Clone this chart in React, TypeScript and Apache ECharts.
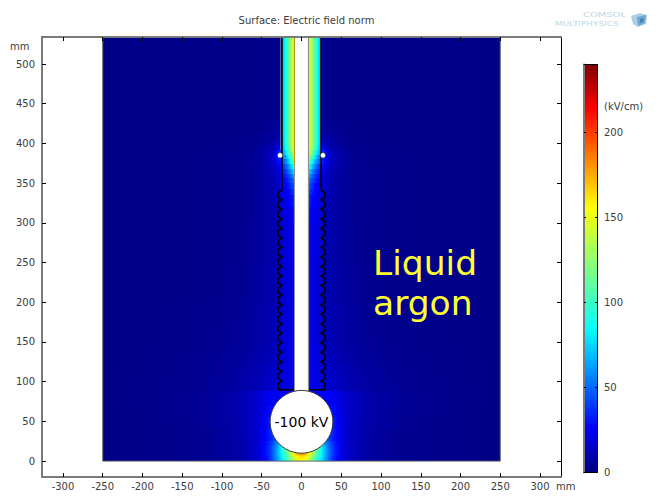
import React, { useEffect, useRef } from "react";
import * as echarts from "echarts";

const xTicks = [-300, -250, -200, -150, -100, -50, 0, 50, 100, 150, 200, 250, 300];
const yTicks = [0, 50, 100, 150, 200, 250, 300, 350, 400, 450, 500];
const barTicks = [0, 50, 100, 150, 200];
const jetStops: [number, string][] = [
  [0, "#00007f"], [0.11, "#0000ff"], [0.35, "#00ffff"], [0.5, "#80ff80"],
  [0.65, "#ffff00"], [0.89, "#ff0000"], [1, "#7f0000"],
];
const barMax = 240;

// |x| columns (mm) and rows of field values (kV/cm)
const lowerColumns = [0, 5, 10, 15, 20, 25, 30, 35, 40, 45, 50, 55, 60, 70, 80, 100, 125, 150, 200, 250];
const lowerBands = [[0, 2], [2, 4], [4, 6], [6, 8], [8, 10], [10, 13], [13, 16], [16, 20], [20, 25], [25, 32], [32, 40], [40, 55], [55, 70], [70, 88]];
const lowerValues = [
  [150, 145, 130, 110, 92, 78, 62, 48, 34, 26, 20, 16, 13, 9, 7, 5, 4, 3, 2, 1.5],
  [158, 152, 136, 114, 95, 80, 63, 48, 35, 27, 21, 17, 14, 10, 8, 5.5, 4, 3, 2, 1.5],
  [165, 158, 142, 118, 98, 82, 64, 49, 36, 28, 22, 18, 15, 10, 8, 6, 4, 3, 2, 1.5],
  [172, 165, 148, 122, 100, 83, 65, 50, 37, 28, 22, 18, 15, 11, 8, 6, 4, 3, 2, 1.5],
  [178, 172, 152, 126, 103, 84, 65, 50, 37, 29, 23, 18, 15, 11, 8, 6, 4, 3, 2, 1.5],
  [178, 172, 155, 130, 106, 86, 66, 50, 38, 29, 23, 18, 15, 11, 8, 6, 4, 3, 2, 1.5],
  [178, 172, 155, 132, 108, 86, 66, 50, 38, 29, 23, 18, 15, 11, 8, 6, 4, 3, 2, 1.5],
  [150, 150, 140, 120, 100, 88, 64, 49, 37, 29, 23, 18, 15, 11, 8, 6, 4, 3, 2, 1.5],
  [100, 100, 100, 100, 100, 78, 60, 46, 35, 28, 22, 18, 15, 11, 8, 6, 4, 3, 2, 1.5],
  [60, 60, 60, 60, 60, 60, 52, 40, 31, 26, 21, 17, 15, 11, 9, 6, 4, 3, 2, 1.5],
  [45, 45, 45, 45, 45, 45, 45, 42, 33, 27, 22, 18, 15, 12, 9, 6, 4, 3, 2, 1.5],
  [33, 33, 33, 33, 33, 33, 33, 33, 32, 26, 21, 18, 15, 12, 9, 7, 5, 3.5, 2, 1.5],
  [30, 30, 30, 30, 30, 30, 30, 30, 28, 24, 20, 17, 15, 12, 10, 7, 5, 4, 2, 1.5],
  [25, 25, 25, 25, 25, 25, 25, 25, 24, 22, 19, 17, 15, 12, 10, 7.5, 5, 4, 2.5, 1.5],
];
const upperColumns = [8.8, 10, 12, 14, 16, 18, 20, 22, 24.4, 24.6, 28, 32, 36, 40, 50, 60, 70, 85, 100, 125, 150, 200, 250];
const upperBands = [[88, 105], [105, 120], [120, 135], [135, 150], [150, 175], [175, 200], [200, 250], [250, 300], [300, 320], [320, 335], [335, 343], [343, 350], [350, 356], [356, 362], [362, 368], [368, 374], [374, 380], [380, 386], [386, 392], [392, 398], [398, 405], [405, 415], [415, 430], [430, 536]];
const upperValues = [
  [30, 27, 24, 22, 20, 20, 20, 21, 22, 20, 19, 17, 16, 15, 12.5, 10.5, 9, 7, 6, 4.5, 3.5, 2.5, 1.5],
  [29, 26, 24, 22, 20, 20, 20, 20, 21, 18, 17, 15.5, 14.5, 14, 11.5, 9.5, 8, 6.5, 5.5, 4.2, 3.2, 2.2, 1.5],
  [28, 25, 23, 21, 20, 19, 19, 19, 20, 16, 15, 14, 13, 12, 10, 8.5, 7, 6, 5, 4, 3, 2, 1.5],
  [28, 25, 23, 21, 20, 19, 19, 19, 19, 15, 14, 13, 12, 11, 9, 7.5, 6.5, 5.5, 4.5, 3.5, 2.8, 2, 1.5],
  [27, 24, 22, 20, 19, 18, 18, 18, 18, 14.5, 13, 12, 11, 10, 8.5, 7, 6, 5, 4, 3.2, 2.5, 2, 1.5],
  [27, 24, 22, 20, 19, 18, 18, 18, 18, 14, 13, 11.5, 10.5, 9.5, 8, 6.5, 5.5, 4.5, 3.5, 3, 2.5, 2, 1.5],
  [27, 24, 22, 20, 19, 18, 18, 18, 18, 14, 12, 11, 10, 9, 7, 6, 5, 4, 3, 2.5, 2, 2, 1.5],
  [28, 25, 23, 21, 20, 19, 19, 18, 18, 14, 12, 10.5, 9.5, 8.5, 6.5, 5.5, 4.5, 3.5, 3, 2.5, 2, 2, 1.5],
  [32, 29, 26, 24, 22, 21, 20, 20, 19, 15, 13, 11, 10, 8.5, 6.5, 5, 4, 3.5, 3, 2.5, 2, 2, 1.5],
  [38, 34, 30, 27, 25, 23, 22, 21, 20, 16, 14, 11.5, 10, 8.5, 6.5, 5, 4, 3, 3, 2.5, 2, 2, 1.5],
  [44, 40, 35, 31, 28, 25, 24, 23, 22, 18, 15, 12, 10, 9, 6.5, 5, 4, 3, 3, 2.5, 2, 2, 1.5],
  [50, 45, 40, 35, 31, 28, 26, 24, 23, 18.5, 15.5, 12.5, 10.5, 9, 6.5, 5, 4, 3, 3, 2.5, 2, 2, 1.5],
  [58, 52, 46, 41, 36, 32, 29, 27, 25, 20, 17, 13.5, 11, 9, 7, 5, 4, 3, 3, 2.5, 2, 2, 1.5],
  [68, 62, 55, 48, 42, 37, 33, 30, 28, 21, 18, 14, 11.5, 9.5, 7, 5, 4, 3, 3, 2.5, 2, 2, 1.5],
  [82, 75, 66, 58, 50, 44, 39, 35, 32, 24, 20, 15.5, 12.5, 10, 7, 5, 4, 3, 3, 2.5, 2, 2, 1.5],
  [100, 92, 80, 70, 60, 52, 46, 40, 37, 29, 23, 17.5, 14, 11, 7, 5, 4, 3, 2.5, 2.5, 2, 2, 1.5],
  [122, 112, 98, 85, 74, 64, 56, 49, 44, 36, 29, 21, 15.5, 12, 7.5, 5, 4, 3, 2.5, 2.5, 2, 2, 1.5],
  [140, 130, 115, 100, 88, 76, 66, 58, 52, 45, 38, 25, 17, 12.5, 7.5, 5, 3.5, 3, 2.5, 2.5, 2, 2, 1.5],
  [152, 142, 128, 113, 100, 88, 78, 68, 60, 40, 33, 22, 15, 11, 7, 4.5, 3.5, 3, 2.5, 2.5, 2, 2, 1.5],
  [156, 148, 135, 122, 108, 96, 85, 74, 64, 28, 23, 16, 11, 9, 5.5, 4, 3, 2.5, 2.5, 2, 2, 2, 1.5],
  [158, 150, 138, 125, 112, 100, 90, 78, 65, 17, 14, 11, 8, 7, 4.5, 3.5, 3, 2.5, 2, 2, 2, 2, 1.5],
  [158, 150, 138, 125, 112, 100, 90, 78, 65, 11, 9.5, 7.5, 6, 5.5, 4, 3, 2.5, 2, 2, 2, 2, 2, 1.5],
  [158, 150, 138, 125, 112, 100, 90, 78, 65, 7, 6, 5, 4.5, 4, 3, 2.5, 2, 2, 2, 2, 2, 2, 1.5],
  [158, 150, 138, 125, 112, 100, 90, 78, 65, 4, 3.5, 3, 3, 2.5, 2, 2, 2, 2, 2, 2, 2, 2, 1.5],
];

// device geometry (mm)
const domainEdge = [[-250, 0], [250, 0], [250, 536], [-250, 536], [-250, 0]];
const innerTube = [-8.8, 8.8, 86, 536];
const goldEdgeFrom = 372;
const wallX = 24.5;
const bumpX = 29.5;
const wallTop = 534;
const wallShoulder = 343;
const wallGreyEdge = [[-26, 534], [-26, 392]];
const corrugationPeaks = [335, 323, 311, 299, 287, 275, 263, 251, 239, 227, 215, 203, 191, 179, 167, 155, 143, 131, 119, 107, 95];
const shieldFloor = 90;
const rings = [[-27, 385], [27, 385]];
const ringRadius = 3.4;
const sphere = [0, 49.5, 39.5];

function hexRgb(h: string) {
  return [parseInt(h.slice(1, 3), 16), parseInt(h.slice(3, 5), 16), parseInt(h.slice(5, 7), 16)];
}
function jet(v: number) {
  const t = Math.max(0, Math.min(1, v / barMax));
  for (let i = 1; i < jetStops.length; i++) {
    if (t <= jetStops[i][0]) {
      const [a, ca] = jetStops[i - 1];
      const [b, cb] = jetStops[i];
      const f = (t - a) / (b - a);
      const p = hexRgb(ca), q = hexRgb(cb);
      return `rgb(${p.map((c, k) => Math.round(c + (q[k] - c) * f)).join(",")})`;
    }
  }
  return jetStops[jetStops.length - 1][1];
}
function rowStops(cols: number[], vals: number[]) {
  const stops: { offset: number; color: string }[] = [];
  for (let i = cols.length - 1; i >= 0; i--) stops.push({ offset: (250 - cols[i]) / 500, color: jet(vals[i]) });
  for (let i = 0; i < cols.length; i++) {
    if (cols[i] === 0) continue;
    stops.push({ offset: (250 + cols[i]) / 500, color: jet(vals[i]) });
  }
  return stops;
}
const fieldRows = [
  ...lowerBands.map((b, i) => ({ b, stops: rowStops(lowerColumns, lowerValues[i]) })),
  ...upperBands.map((b, i) => ({ b, stops: rowStops(upperColumns, upperValues[i]) })),
];

function wallPath(sign: number) {
  const pts: number[][] = [[sign * wallX, wallTop], [sign * wallX, wallShoulder]];
  corrugationPeaks.forEach((p) => {
    pts.push([sign * wallX, p + 6], [sign * bumpX, p + 3], [sign * bumpX, p - 3], [sign * wallX, p - 6]);
  });
  pts.push([sign * bumpX, shieldFloor], [sign * 8.8, shieldFloor]);
  return pts;
}
const outlines = [
  { pts: domainEdge, color: "#666", width: 1 },
  { pts: wallGreyEdge, color: "#8a8a8a", width: 1 },
  { pts: wallPath(-1), color: "#000", width: 1.5 },
  { pts: wallPath(1), color: "#000", width: 1.5 },
  { pts: [[innerTube[0], innerTube[2]], [innerTube[0], goldEdgeFrom]], color: "#8f8f8f", width: 1 },
  { pts: [[innerTube[0], goldEdgeFrom], [innerTube[0], innerTube[3]]], color: "#b09a10", width: 1.2 },
  { pts: [[innerTube[1], innerTube[2]], [innerTube[1], innerTube[3]]], color: "#8f8f8f", width: 1.2 },
];

const textColor = "#3c3c3c";
const font = "DejaVu Sans";

export default function App() {
  const ref = useRef<HTMLDivElement>(null);
  useEffect(() => {
    const chart = echarts.init(ref.current!, undefined, { renderer: "svg" });
    const mainAxisBase = {
      gridIndex: 0, type: "value" as const, z: 10,
      splitLine: { show: false }, axisLine: { onZero: false, lineStyle: { color: "#7a7a7a", width: 2 } },
      axisTick: { inside: true, length: 4, lineStyle: { color: "#000", width: 1 } },
    };
    chart.setOption({
      animation: false,
      backgroundColor: "#fff",
      title: {
        text: "Surface: Electric field norm", left: 301.5, top: 10, textAlign: "center",
        textStyle: { fontFamily: font, fontSize: 10, fontWeight: "normal", color: textColor },
      },
      grid: [
        { left: 42, top: 37, width: 519, height: 440 },
        { left: 584, top: 64.5, width: 13, height: 408 },
      ],
      xAxis: [
        { ...mainAxisBase, position: "bottom", min: -326.4, max: 326.4,
          axisTick: { ...mainAxisBase.axisTick, customValues: xTicks },
          axisLabel: { customValues: xTicks, margin: 4, color: textColor, fontFamily: font, fontSize: 10 } },
        { ...mainAxisBase, position: "top", min: -326.4, max: 326.4,
          axisTick: { ...mainAxisBase.axisTick, customValues: xTicks },
          axisLabel: { show: false } },
        { gridIndex: 1, type: "value", position: "top", min: 0, max: 1, z: 10, splitLine: { show: false },
          axisLine: { onZero: false, lineStyle: { color: "#000", width: 1 } }, axisTick: { show: false }, axisLabel: { show: false } },
        { gridIndex: 1, type: "value", position: "bottom", min: 0, max: 1, z: 10, splitLine: { show: false },
          axisLine: { onZero: false, lineStyle: { color: "#000", width: 1 } }, axisTick: { show: false }, axisLabel: { show: false } },
      ],
      yAxis: [
        { ...mainAxisBase, position: "left", min: -20, max: 534,
          axisTick: { ...mainAxisBase.axisTick, customValues: yTicks },
          axisLabel: { customValues: yTicks, margin: 7, color: textColor, fontFamily: font, fontSize: 10 } },
        { ...mainAxisBase, position: "right", min: -20, max: 534,
          axisLine: { onZero: false, lineStyle: { color: "#000", width: 1 } },
          axisTick: { ...mainAxisBase.axisTick, customValues: yTicks },
          axisLabel: { show: false } },
        { gridIndex: 1, type: "value", position: "left", min: 0, max: barMax, z: 10, splitLine: { show: false },
          axisLine: { onZero: false, lineStyle: { color: "#7a7a7a", width: 2 } },
          axisTick: { inside: true, length: 2, customValues: barTicks, lineStyle: { color: "#000" } }, axisLabel: { show: false } },
        { gridIndex: 1, type: "value", position: "right", min: 0, max: barMax, z: 10, splitLine: { show: false },
          axisLine: { onZero: false, lineStyle: { color: "#000", width: 1 } },
          axisTick: { inside: true, length: 2, customValues: barTicks, lineStyle: { color: "#000" } },
          axisLabel: { customValues: barTicks, margin: 7, color: textColor, fontFamily: font, fontSize: 10 } },
      ],
      series: [
        {
          type: "custom", xAxisIndex: 0, yAxisIndex: 0, silent: true, clip: true, z: 1,
          data: fieldRows.map((r) => r.b),
          renderItem: (p: any, api: any) => {
            const r = fieldRows[p.dataIndexInside];
            const a = api.coord([-250, r.b[1]]);
            const c = api.coord([250, r.b[0]]);
            const top = Math.round(a[1]);
            const bottom = Math.round(c[1]);
            return {
              type: "rect",
              shape: { x: a[0], y: top, width: c[0] - a[0], height: bottom - top },
              style: { fill: { type: "linear", x: 0, y: 0, x2: 1, y2: 0, colorStops: r.stops } },
            };
          },
        },
        {
          type: "custom", xAxisIndex: 0, yAxisIndex: 0, silent: true, clip: true, z: 2,
          data: [innerTube],
          renderItem: (_: any, api: any) => {
            const a = api.coord([innerTube[0], innerTube[3]]);
            const c = api.coord([innerTube[1], innerTube[2]]);
            return { type: "rect", shape: { x: a[0], y: a[1], width: c[0] - a[0], height: c[1] - a[1] }, style: { fill: "#fff" } };
          },
        },
        {
          type: "custom", xAxisIndex: 0, yAxisIndex: 0, silent: true, clip: true, z: 3,
          data: outlines.map((o, i) => [i]),
          renderItem: (p: any, api: any) => {
            const o = outlines[p.dataIndexInside];
            return {
              type: "polyline",
              shape: { points: o.pts.map((q) => api.coord(q)) },
              style: { fill: "none", stroke: o.color, lineWidth: o.width },
            };
          },
        },
        {
          type: "custom", xAxisIndex: 0, yAxisIndex: 0, silent: true, clip: false, z: 4,
          data: rings,
          renderItem: (p: any, api: any) => {
            const q = rings[p.dataIndexInside];
            const c = api.coord(q);
            const r = api.size([ringRadius, 0])[0];
            return { type: "circle", shape: { cx: c[0], cy: c[1], r }, style: { fill: "#fff", stroke: "#333", lineWidth: 0.8 } };
          },
        },
        {
          type: "custom", xAxisIndex: 0, yAxisIndex: 0, silent: true, clip: false, z: 5,
          data: [sphere],
          renderItem: (_: any, api: any) => {
            const c = api.coord([sphere[0], sphere[1]]);
            const r = api.size([sphere[2], 0])[0];
            return {
              type: "group",
              children: [
                { type: "circle", shape: { cx: c[0], cy: c[1], r }, style: { fill: "#fff", stroke: "#333", lineWidth: 1 } },
                { type: "text", style: { x: c[0], y: c[1], text: "-100 kV", fill: "#000", fontFamily: font, fontSize: 14, align: "center", verticalAlign: "middle" } },
              ],
            };
          },
        },
        {
          type: "custom", xAxisIndex: 2, yAxisIndex: 2, silent: true, clip: true, z: 1,
          data: [[0, barMax]],
          renderItem: (_: any, api: any) => {
            const a = api.coord([0, barMax]);
            const c = api.coord([1, 0]);
            return {
              type: "rect",
              shape: { x: a[0], y: a[1], width: c[0] - a[0], height: c[1] - a[1] },
              style: {
                fill: {
                  type: "linear", x: 0, y: 1, x2: 0, y2: 0,
                  colorStops: jetStops.map(([offset, color]) => ({ offset, color })),
                },
              },
            };
          },
        },
      ],
      graphic: [
        { type: "text", left: 10, top: 41, style: { text: "mm", fill: textColor, fontFamily: font, fontSize: 10 } },
        { type: "text", left: 556, top: 481, style: { text: "mm", fill: textColor, fontFamily: font, fontSize: 10 } },
        { type: "text", left: 604, top: 101, style: { text: "(kV/cm)", fill: textColor, fontFamily: font, fontSize: 10 } },
        { type: "text", left: 373, top: 245, z: 20, style: { text: "Liquid", fill: "#ffff33", fontFamily: font, fontSize: 34.5 } },
        { type: "text", left: 373, top: 285, z: 20, style: { text: "argon", fill: "#ffff33", fontFamily: font, fontSize: 34.5 } },
        { type: "text", x: 583, y: 11, scaleX: 1.42, style: { text: "COMSOL", fill: "#bcd6e6", fontFamily: font, fontSize: 7 } },
        { type: "text", x: 555, y: 20, scaleX: 1.27, style: { text: "MULTIPHYSICS", fill: "#bcd6e6", fontFamily: font, fontSize: 7 } },
        { type: "polygon", shape: { points: [[631, 16], [640, 13], [647, 15], [646, 24], [638, 27], [633, 24]] }, style: { fill: "#a9cfe6" } },
        { type: "polygon", shape: { points: [[637, 17], [646, 15], [645, 23], [638, 26]] }, style: { fill: "#6fa9cf" } },
        { type: "polygon", shape: { points: [[640, 19], [644, 18], [643, 22], [640, 23]] }, style: { fill: "#3f87b8" } },
      ],
    });
    return () => chart.dispose();
  }, []);
  return <div ref={ref} style={{ position: "absolute", left: 0, top: 0, width: 664, height: 499 }} />;
}
